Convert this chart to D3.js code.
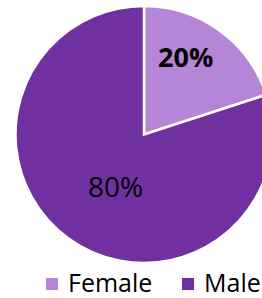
<!DOCTYPE html>
<html lang="en">
<head>
    <meta charset="UTF-8">
    <title>Gender pie</title>
    <script src="https://d3js.org/d3.v7.min.js"></script>
    <style>
        body { margin: 0; background: #fff; overflow: hidden; }
        text { font-family: "Open Sans", sans-serif; }
    </style>
</head>
<body>
    <svg width="262" height="298"></svg>
    <script>
        const categories = ["Female", "Male"];
        const values = [20, 80];
        const colors = ["#b585d8", "#7030a0"];

        const svg = d3.select("svg");
        const cx = 144, cy = 134.5, r = 128.5;

        const pie = d3.pie().sort(null).value(d => d)(values);
        const arc = d3.arc().innerRadius(0).outerRadius(r);

        const g = svg.append("g").attr("transform", `translate(${cx},${cy})`);

        g.selectAll("path")
            .data(pie)
            .enter()
            .append("path")
            .attr("d", arc)
            .attr("fill", (d, i) => colors[i])
            .attr("stroke", "#fff")
            .attr("stroke-width", 2.5)
            .attr("stroke-linejoin", "miter");

        // data labels (excel-ish placement: a bit counter-clockwise of centroid)
        const labelR = [0.684, 0.465];
        const shift = -0.134;
        function labelPos(d, i) {
            const a = d3.arc().innerRadius(r * labelR[i]).outerRadius(r * labelR[i]);
            return a.centroid({ startAngle: d.startAngle + shift, endAngle: d.endAngle + shift });
        }
        g.selectAll(".lbl")
            .data(pie)
            .enter()
            .append("text")
            .attr("class", "lbl")
            .attr("x", (d, i) => labelPos(d, i)[0])
            .attr("y", (d, i) => labelPos(d, i)[1])
            .attr("dy", "0.36em")
            .attr("text-anchor", "middle")
            .attr("font-size", (d, i) => i === 0 ? 27 : 28)
            .attr("font-weight", (d, i) => i === 0 ? "bold" : "normal")
            .attr("fill", "#000")
            .text(d => d.data + "%");

        // legend
        const legendX = [46, 182];
        const leg = svg.selectAll(".leg")
            .data(categories)
            .enter()
            .append("g")
            .attr("transform", (d, i) => `translate(${legendX[i]},278)`);
        leg.append("rect")
            .attr("width", 12).attr("height", 12)
            .attr("fill", (d, i) => colors[i]);
        leg.append("text")
            .attr("x", 22).attr("y", 14)
            .attr("font-size", 25)
            .attr("fill", "#000")
            .text(d => d);
    </script>
</body>
</html>
